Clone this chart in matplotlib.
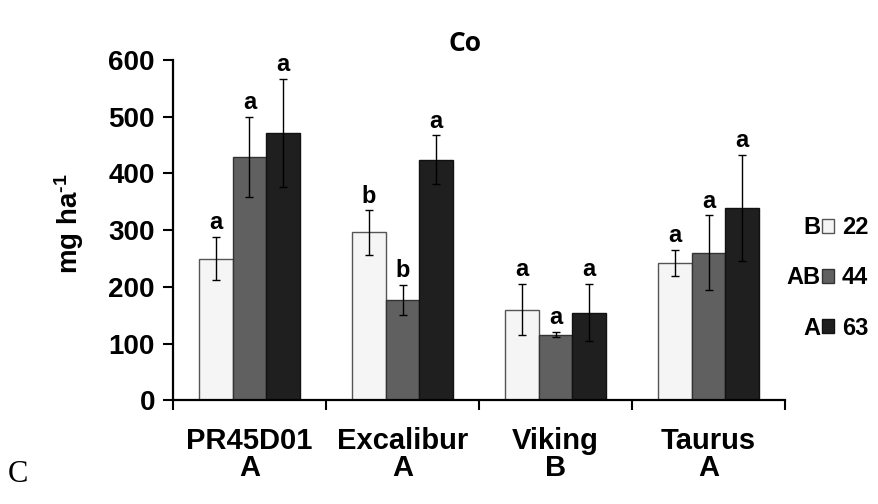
import numpy as np
import matplotlib
matplotlib.use("Agg")
import matplotlib.pyplot as plt

plt.rcParams['font.family'] = ['Liberation Sans', 'DejaVu Sans']
plt.rcParams['mathtext.fontset'] = 'custom'
plt.rcParams['mathtext.rm'] = 'Liberation Sans:bold'
plt.rcParams['mathtext.default'] = 'rm'

# data
cultivars = ["PR45D01", "Excalibur", "Viking", "Taurus"]
cultivar_groups = ["A", "A", "B", "A"]
series_names = ["22", "44", "63"]
series_groups = ["B", "AB", "A"]
mean_22 = [250, 296, 160, 242]
mean_44 = [429, 177, 116, 260]
mean_63 = [472, 424, 155, 339]
err_22 = [38, 39, 45, 23]
err_44 = [70, 26, 5, 66]
err_63 = [95, 43, 50, 93]
let_22 = ["a", "b", "a", "a"]
let_44 = ["a", "b", "a", "a"]
let_63 = ["a", "a", "a", "a"]

means = [mean_22, mean_44, mean_63]
errs = [err_22, err_44, err_63]
letters = [let_22, let_44, let_63]
colors = ["#f5f5f5", "#606060", "#1f1f1f"]
edges = ["#555555", "#333333", "#111111"]

fig = plt.figure(figsize=(8.79, 5.04), dpi=100)
ax = fig.add_axes([0.1968, 0.2054, 0.6963, 0.6756])

x = np.arange(len(cultivars))
w = 0.22
handles = []
for i in range(3):
    pos = x + (i - 1) * w
    b = ax.bar(pos, means[i], w, color=colors[i], edgecolor=edges[i], linewidth=1.0,
               label=series_names[i], zorder=2)
    handles.append(b)
    ax.errorbar(pos, means[i], yerr=errs[i], fmt='none', ecolor='black',
                elinewidth=1.0, capsize=3, capthick=1.0, zorder=3)
    for p, m, e, t in zip(pos, means[i], errs[i], letters[i]):
        ax.text(p, m + e + 5, t, ha='center', va='bottom', fontsize=17,
                fontweight='bold')

ax.set_xlim(-0.5, 3.5)
ax.set_ylim(0, 600)
ax.set_yticks(range(0, 601, 100))
ax.set_xticks(np.arange(-0.5, 3.6, 1.0))
ax.set_xticklabels([])
ax.set_xticks(x, minor=True)
ax.set_xticklabels([c + "\n" + g for c, g in zip(cultivars, cultivar_groups)],
                   minor=True, fontsize=21, fontweight='bold', linespacing=0.95)
ax.tick_params(axis='x', which='minor', length=0, pad=19)
ax.tick_params(axis='x', which='major', direction='out', length=7, width=1.5)
ax.tick_params(axis='y', direction='out', length=7, width=1.5, labelsize=20, pad=6)
for lab in ax.get_yticklabels():
    lab.set_fontweight('bold')
for s in ['top', 'right']:
    ax.spines[s].set_visible(False)
for s in ['left', 'bottom']:
    ax.spines[s].set_linewidth(1.6)

ax.set_ylabel("mg ha$^{\\text{-1}}$", fontsize=20, fontweight='bold', labelpad=16, y=0.52)
fig.text(0.529, 0.913, "Co", fontsize=19, fontweight='bold', family='Open Sans',
         ha='center', va='center')

leg = ax.legend(handles=handles, labels=series_names, loc='center left',
                bbox_to_anchor=(1.06, 0.36), frameon=False, borderaxespad=0,
                borderpad=0, prop={'weight': 'bold', 'size': 17},
                handlelength=0.5, handleheight=0.5, handletextpad=0.35,
                labelspacing=1.15)

fig.canvas.draw()
inv = fig.transFigure.inverted()
for h, t, g in zip(leg.legend_handles, leg.get_texts(), series_groups):
    hb = h.get_window_extent()
    tb = t.get_window_extent()
    xf, yf = inv.transform((hb.x0 - 1, tb.y0))
    fig.text(xf, yf, g, ha='right', va='bottom', fontsize=17, fontweight='bold')

fig.text(0.009, 0.03, "C", fontsize=22, family='Liberation Serif', ha='left', va='bottom')

fig.savefig("out.png", dpi=100)
